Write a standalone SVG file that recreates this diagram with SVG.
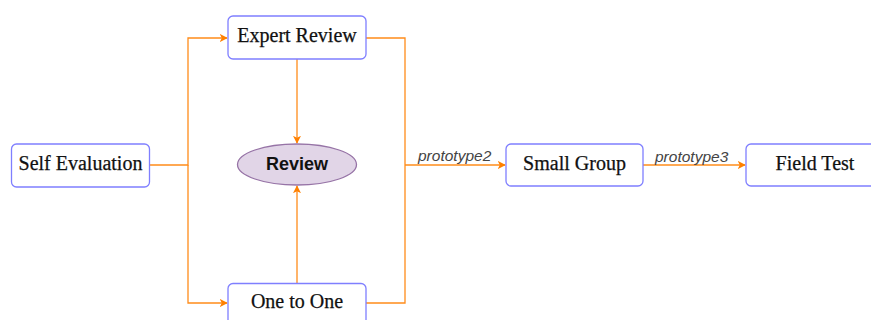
<svg xmlns="http://www.w3.org/2000/svg" width="871" height="320" viewBox="0 0 871 320">
<style>
.box{fill:#ffffff;stroke:#7f7fff;stroke-width:1.3}
.lbl{font-family:"Liberation Serif","Times New Roman",serif;font-size:20px;fill:#111;text-anchor:middle;stroke:#111;stroke-width:0.25}
.edge{fill:none;stroke:#ff8c1a;stroke-width:1.3}
.el{font-family:"Liberation Sans",Arial,sans-serif;font-size:15.5px;font-style:italic;fill:#444}
</style>
<defs>
<marker id="arr" viewBox="0 0 10 10" refX="9" refY="5" markerWidth="8" markerHeight="8" markerUnits="userSpaceOnUse" orient="auto">
<path d="M0,0 L10,5 L0,10 L2.5,5 Z" fill="#ff8000"/>
</marker>
</defs>
<rect width="871" height="320" fill="#ffffff"/>
<g id="connectors">
<path class="edge" d="M149,165 H188 V38 H227" marker-end="url(#arr)"/>
<path class="edge" d="M188,165 V303 H227" marker-end="url(#arr)"/>
<path class="edge" d="M297,59 V143" marker-end="url(#arr)"/>
<path class="edge" d="M297,283 V186" marker-end="url(#arr)"/>
<path class="edge" d="M366,38 H405 V303 H366"/>
<path class="edge" d="M405,165 H505" marker-end="url(#arr)"/>
<path class="edge" d="M643,165 H745" marker-end="url(#arr)"/>
<text class="el" x="418" y="161">prototype2</text>
<text class="el" x="655" y="162">prototype3</text>
</g>
<g id="self-evaluation">
<rect class="box" x="11.5" y="144" width="138" height="43" rx="5"/>
<text class="lbl" x="80.5" y="169.5">Self Evaluation</text>
</g>
<g id="expert-review">
<rect class="box" x="228" y="16" width="138" height="43" rx="5"/>
<text class="lbl" x="297" y="42">Expert Review</text>
</g>
<g id="review">
<ellipse cx="297" cy="164.5" rx="59.5" ry="20.5" fill="#e1d5e7" stroke="#9673a6" stroke-width="1.3"/>
<text x="297" y="170" text-anchor="middle" font-family="'Liberation Sans',Arial,sans-serif" font-size="18" font-weight="bold" fill="#111">Review</text>
</g>
<g id="one-to-one">
<rect class="box" x="228" y="283.5" width="138" height="43" rx="5"/>
<text class="lbl" x="297" y="308">One to One</text>
</g>
<g id="small-group">
<rect class="box" x="506" y="144" width="137" height="42" rx="5"/>
<text class="lbl" x="574.5" y="169.5">Small Group</text>
</g>
<g id="field-test">
<rect class="box" x="746" y="144" width="138" height="42" rx="5"/>
<text class="lbl" x="815" y="169.5">Field Test</text>
</g>
</svg>
